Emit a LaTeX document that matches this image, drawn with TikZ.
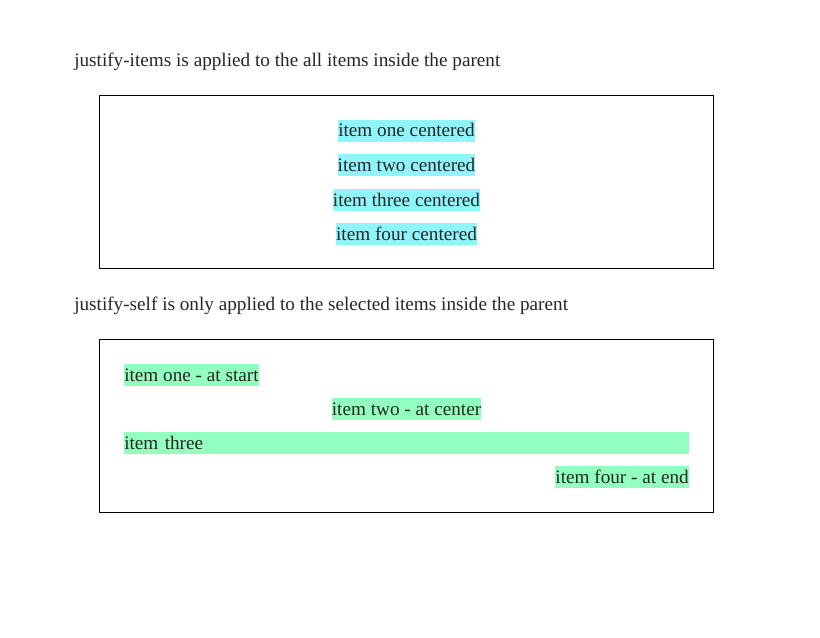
\documentclass[tikz,border=0pt]{standalone}
\usepackage{fontspec}
\setmainfont{Liberation Serif}
\usetikzlibrary{positioning}

\definecolor{itemcyan}{RGB}{143,245,250}
\definecolor{itemgreen}{RGB}{147,255,190}

\begin{document}
\begin{tikzpicture}[x=0.75pt, y=-0.75pt, node distance=9pt,
    font=\fontsize{14.4}{16.5}\selectfont,
    title/.style={anchor=base west, inner sep=0pt, text=black!85},
    parent/.style={draw, thin, inner sep=0pt, minimum width=460.5pt, minimum height=129.75pt},
    gitem/.style={inner xsep=0pt, inner ysep=0pt, minimum height=16.5pt,
      text height=12.6pt, text depth=2.9pt, text=black!85},
    centered/.style={gitem, fill=itemcyan},
    selfitem/.style={gitem, fill=itemgreen}]
  \useasboundingbox (0,0) rectangle (820,637);

  % justify-items
  \node[title] (titleA) at (74,66) {justify-items is applied to the all items inside the parent};
  \node[parent] (parentA) at (406.5,182) {};
  \node[centered] (oneA) at (406.5,130.5) {item one centered};
  \node[centered] (twoA) [below=of oneA] {item two centered};
  \node[centered] (threeA) [below=of twoA] {item three centered};
  \node[centered] (fourA) [below=of threeA] {item four centered};

  % justify-self
  \node[title] (titleB) at (74,310) {justify-self is only applied to the selected items inside the parent};
  \node[parent] (parentB) at (406.5,426) {};
  \node[selfitem, anchor=west] (oneB) at (124,375) {item one - at start};
  \node[selfitem] (twoB) at (406.5,409) {item two - at center};
  \node[selfitem, anchor=west, text width=423.75pt, align=left] (threeB) at (124,443) {item three};
  \node[selfitem, anchor=east] (fourB) at (689,477) {item four - at end};
\end{tikzpicture}
\end{document}
